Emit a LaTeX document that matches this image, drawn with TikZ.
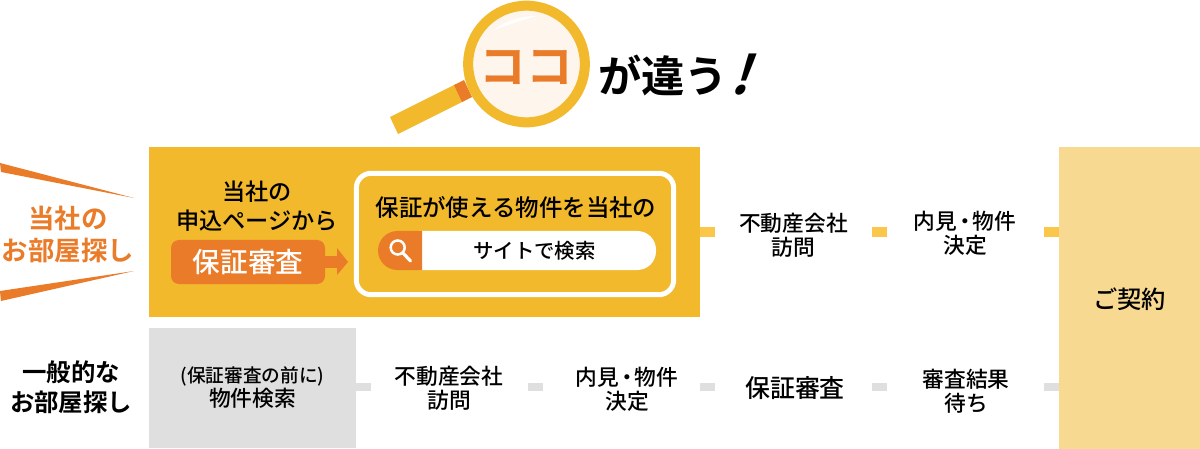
\documentclass[tikz,border=0pt]{standalone}
\usepackage{fontspec}
\setmainfont{Noto Sans CJK JP Medium}[BoldFont={Noto Sans CJK JP Bold}]
\newfontfamily\bangfont{Noto Sans CJK JP Bold}[FakeSlant=0.34]
\definecolor{gold}{HTML}{F1B92B}
\definecolor{paleorange}{HTML}{F8D992}
\definecolor{orange}{HTML}{EA7B29}
\definecolor{lens}{HTML}{FEF5ED}
\definecolor{lightgold}{HTML}{FBC74B}
\definecolor{palegray}{HTML}{DFDFDF}
\newcommand{\viewtext}{内見\kern-2.2pt・\kern-2.2pt物件\\決定}
\tikzset{
  px/.style={x=0.75pt,y=-0.75pt},
  steplabel/.style={align=center,font=\fontsize{16.3}{18}\selectfont,inner sep=0pt,text=black},
  sidelabel/.style={align=center,inner sep=0pt,font=\fontsize{18.3}{22.5}\bfseries\selectfont},
  goldlink/.style={line width=7.5pt,lightgold},
  graylink/.style={line width=5.6pt,palegray},
}
\begin{document}
\begin{tikzpicture}[px]
    \useasboundingbox (0,0) rectangle (1200,449);

    % Magnifier
    \fill[gold] (390,117) -- (456,84) -- (464,101) -- (398,134) -- cycle;
    \fill[orange] (454,85) -- (464,80) -- (472,97) -- (462,102) -- cycle;
    \node[circle,draw=gold,fill=lens,line width=7.5pt,minimum size=87.5pt,inner sep=0pt] (lens) at (526.5,64) {};
    \fill[white] (494,30) .. controls (505,21) and (520,16) .. (537,16) .. controls (522,20) and (508,25) .. (494,30) -- cycle;
    \node[text=orange,font=\fontsize{35}{35}\bfseries\selectfont,inner sep=0pt] (koko) at (526,67) {ココ};
    \node[anchor=west,font=\fontsize{32.5}{32.5}\bfseries\selectfont,inner sep=0pt] (chigau) at (598,75) {が違う};
    \node[font=\fontsize{40}{40}\bangfont\selectfont,inner sep=0pt] (bang) at (739,75) {!};

    % Upper row
    \fill[orange] (0,163) -- (134,198) -- (1,172) -- cycle;
    \fill[orange] (0,291) -- (134,271) -- (1,301) -- cycle;
    \node[sidelabel,text=orange,font=\fontsize{19.8}{24}\bfseries\selectfont] (ourlabel) at (68,234) {当社の\\お部屋探し};
    \node[fill=gold,minimum width=413pt,minimum height=127.5pt,inner sep=0pt,anchor=north west] (ourband) at (149,147) {};
    \node[steplabel,font=\fontsize{17.4}{22}\selectfont] (oursite) at (257,206) {当社の\\申込ページから};
    \coordinate (arrowtip) at (348,262);
    \draw[orange,line width=8.25pt] (320,262) -- (338,262);
    \fill[orange] (337,248) -- (arrowtip) -- (337,275) -- cycle;
    \node[fill=orange,rounded corners=6pt,minimum width=115.5pt,minimum height=33pt,inner sep=0pt,text=white,font=\fontsize{20.7}{20.7}\selectfont] (ourcheck) at (248,262) {保証審査};
    \node[draw=white,line width=3.75pt,rounded corners=11pt,minimum width=238pt,minimum height=91pt,inner sep=0pt] (searchbox) at (515,234) {};
    \node[steplabel,font=\fontsize{17.6}{17.6}\selectfont] (searchhead) at (516,208) {保証が使える物件を当社の};
    \fill[white,rounded corners=14pt] (400,231) rectangle (656,270);
    \fill[orange] (422,231) -- (397.5,231) arc[start angle=-90,end angle=-270,radius=19.5] -- (422,270) -- cycle;
    \draw[white,line width=1.9pt] (397.7,247.5) circle[radius=7];
    \draw[white,line width=2.4pt,line cap=round] (403,253) -- (410.5,261);
    \node[steplabel,font=\fontsize{15.3}{15.3}\selectfont] (searchtext) at (534.5,251) {サイトで検索};
    \node[steplabel] (visita) at (793.5,235) {不動産会社\\訪問};
    \node[steplabel] (viewa) at (965,233.5) {\viewtext};

    % Lower row
    \node[fill=palegray,minimum width=155pt,minimum height=90pt,inner sep=0pt,anchor=north west] (genband) at (149,328) {};
    \node[sidelabel] (genlabel) at (71,387) {一般的な\\お部屋探し};
    \node[steplabel] (search) at (252.5,388) {{\fontsize{14}{18}\selectfont (保証審査の前に)}\\物件検索};
    \node[steplabel] (visitb) at (449,388.5) {不動産会社\\訪問};
    \node[steplabel] (viewb) at (627,389.5) {\viewtext};
    \node[steplabel,font=\fontsize{18.7}{18.7}\selectfont] (check) at (795,388) {保証審査};
    \node[steplabel] (wait) at (966,391) {審査結果\\待ち};

    % Contract
    \node[fill=paleorange,minimum width=106pt,minimum height=262.5pt,inner sep=0pt,anchor=north west] (contract) at (1059,147) {};
    \node[steplabel,font=\fontsize{18.2}{18.2}\selectfont] (contracttext) at (1129.5,299) {ご契約};

    % Links
    \foreach \i/\x in {1/700,2/872,3/1044}{
      \coordinate (gold\i) at (\x,232);
      \draw[goldlink] (gold\i) -- ++(15,0);
    }
    \foreach \i/\x in {1/356,2/528,3/700,4/872,5/1044}{
      \coordinate (gray\i) at (\x,387);
      \draw[graylink] (gray\i) -- ++(15,0);
    }
\end{tikzpicture}
\end{document}
